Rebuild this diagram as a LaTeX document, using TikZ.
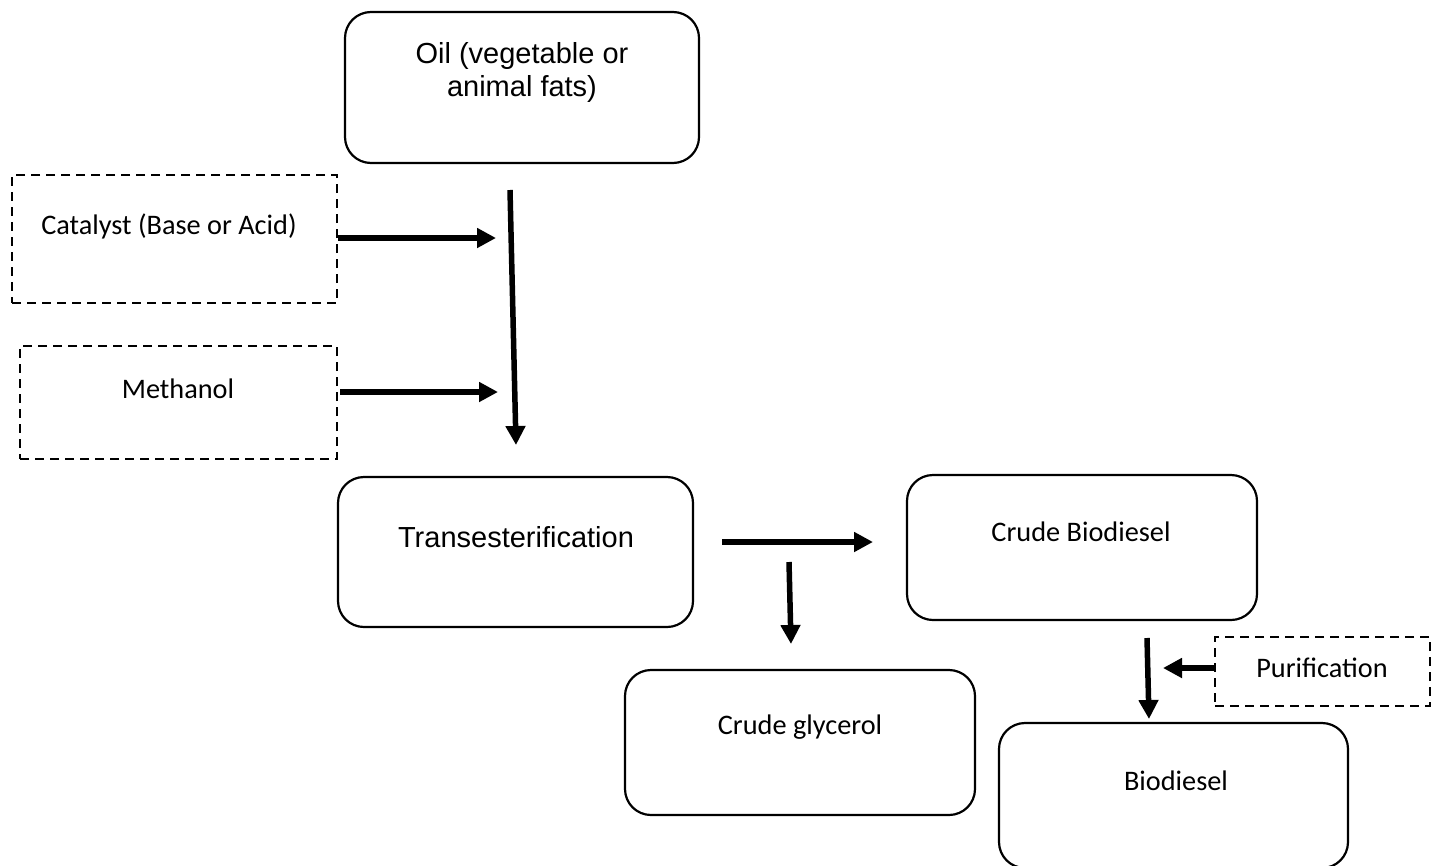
\documentclass[tikz,border=0pt]{standalone}
\usepackage{fontspec}
\setmainfont{Carlito}
\newfontfamily\arialfont{Liberation Sans}
\usetikzlibrary{arrows.meta}
\begin{document}
\begin{tikzpicture}[x=1pt,y=-1pt,
  solidbox/.style={draw, line width=2.2pt, rounded corners=26pt, inner sep=0pt},
  dashbox/.style={draw, line width=2.2pt, dash pattern=on 9pt off 6pt, inner sep=0pt},
  lbl/.style={font=\fontsize{28.3}{34}\selectfont, inner sep=0pt, align=center},
  albl/.style={font=\arialfont\fontsize{29}{33}\selectfont, inner sep=0pt, align=center},
  flow/.style={line width=5.5pt, -{Triangle[length=19pt,width=19pt]}},
  ]
\useasboundingbox (0,0) rectangle (1434,865);
% boxes
\node[solidbox, minimum width=354pt, minimum height=151pt] (oil) at (522,87.5) {};
\node[dashbox, minimum width=325pt, minimum height=128pt] (cat) at (174.5,239) {};
\node[dashbox, minimum width=317pt, minimum height=113pt] (meth) at (178.5,402.5) {};
\node[solidbox, minimum width=355pt, minimum height=150pt] (trans) at (515.5,552) {};
\node[solidbox, minimum width=350pt, minimum height=145pt] (crude) at (1082,547.5) {};
\node[solidbox, minimum width=350pt, minimum height=145pt] (glyc) at (800,742.5) {};
\node[dashbox, minimum width=215pt, minimum height=69pt] (puri) at (1322.5,671.5) {};
\node[solidbox, minimum width=349pt, minimum height=145pt] (bio) at (1173.5,795.5) {};
% texts
\node[albl] (toil) at (522,72) {Oil (vegetable or\\animal fats)};
\node[lbl] (tcat) at (169,226) {Catalyst (Base or Acid)};
\node[lbl] (tmeth) at (178,389) {Methanol};
\node[albl] (ttrans) at (516,537) {Transesterification};
\node[lbl] (tcrude) at (1081,532) {Crude Biodiesel};
\node[lbl] (tglyc) at (800,727) {Crude glycerol};
\node[lbl] (tpuri) at (1322,668) {Purification};
\node[lbl] (tbio) at (1176,781) {Biodiesel};
% arrow end coordinates
\coordinate (m1) at (510,190);
\coordinate (m2) at (516,445);
\coordinate (c1) at (338,238);
\coordinate (c2) at (496,238);
\coordinate (n1) at (340,392);
\coordinate (n2) at (498,392);
\coordinate (r1) at (722,542);
\coordinate (r2) at (873,542);
\coordinate (d1) at (789,562);
\coordinate (d2) at (791,644);
\coordinate (b1) at (1147,638);
\coordinate (b2) at (1149,719);
\coordinate (p1) at (1215,668);
\coordinate (p2) at (1163,668);
% arrows
\draw[flow] (m1) -- (m2);
\draw[flow] (c1) -- (c2);
\draw[flow] (n1) -- (n2);
\draw[flow] (r1) -- (r2);
\draw[flow] (d1) -- (d2);
\draw[flow] (b1) -- (b2);
\draw[flow] (p1) -- (p2);
\end{tikzpicture}
\end{document}
